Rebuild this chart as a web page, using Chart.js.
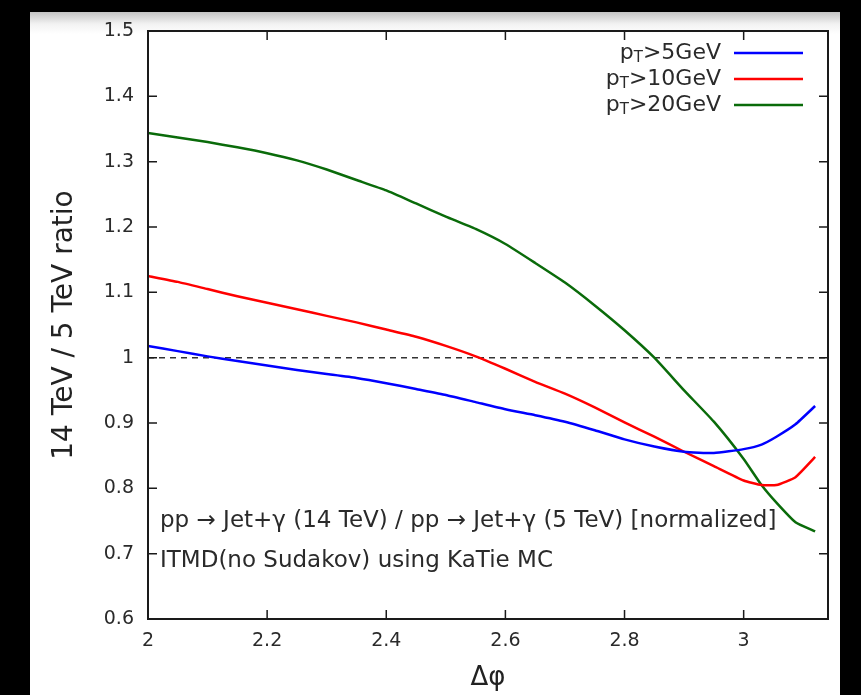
<!DOCTYPE html>
<html>
<head>
<meta charset="utf-8">
<script src="https://cdn.jsdelivr.net/npm/chart.js@4.4.1/dist/chart.umd.min.js"></script>
<style>
html,body{margin:0;padding:0;background:#000;width:861px;height:695px;overflow:hidden;}
#paper{position:absolute;left:30px;top:12px;width:810px;height:683px;
  background:linear-gradient(to bottom,#c4c4c4 0px,#f2f2f2 12px,#ffffff 22px);}
#wrap{position:absolute;left:0;top:0;width:861px;height:695px;}
</style>
</head>
<body>
<div id="paper"></div>
<div id="wrap"><canvas id="c" width="861" height="695"></canvas></div>
<script>
// ---- data ----
const dphi = [2.0,2.05,2.1,2.15,2.2,2.25,2.3,2.35,2.4,2.45,2.5,2.55,2.6,2.65,2.7,2.75,2.8,2.85,2.9,2.95,3.0,3.03,3.055,3.087,3.12];
const pt5  = [1.018,1.010,1.002,0.995,0.988,0.981,0.975,0.969,0.961,0.952,0.943,0.932,0.921,0.912,0.902,0.889,0.875,0.864,0.856,0.854,0.860,0.867,0.879,0.898,0.926];
const pt10 = [1.125,1.116,1.105,1.094,1.084,1.074,1.064,1.054,1.043,1.032,1.018,1.002,0.983,0.963,0.945,0.924,0.901,0.879,0.856,0.834,0.812,0.805,0.805,0.817,0.848];
const pt20 = [1.344,1.337,1.330,1.322,1.313,1.302,1.288,1.272,1.256,1.236,1.216,1.197,1.174,1.145,1.115,1.080,1.042,1.000,0.950,0.902,0.845,0.805,0.778,0.748,0.734];
const refX = [2.0, Math.PI];
const refY = [1.0, 1.0];
const seriesLabels = [">5GeV", ">10GeV", ">20GeV"];
const yTicks = [0.6,0.7,0.8,0.9,1.0,1.1,1.2,1.3,1.4,1.5];
const xTicks = [2.0,2.2,2.4,2.6,2.8,3.0];
const note1 = "pp \u2192 Jet+\u03B3 (14 TeV) / pp \u2192 Jet+\u03B3 (5 TeV) [normalized]";
const note2 = "ITMD(no Sudakov) using KaTie MC";

const toXY = (xs, ys) => xs.map((x,i)=>({x:x,y:ys[i]}));
const FONT = "'DejaVu Sans', sans-serif";
const colors = ['#0000ff','#ff0000','#0a6b0a'];

const decor = {
  id:'decor',
  afterDatasetsDraw(chart){
    const ctx = chart.ctx, a = chart.chartArea;
    const xs = chart.scales.x, ys = chart.scales.y;
    ctx.save();
    ctx.strokeStyle = '#1a1a1a';
    ctx.lineWidth = 1.5;
    const tl = 9;
    ctx.beginPath();
    yTicks.forEach(v=>{
      const py = ys.getPixelForValue(v);
      ctx.moveTo(a.left, py); ctx.lineTo(a.left+tl, py);
      ctx.moveTo(a.right, py); ctx.lineTo(a.right-tl, py);
    });
    xTicks.forEach(v=>{
      const px = xs.getPixelForValue(v);
      ctx.moveTo(px, a.bottom); ctx.lineTo(px, a.bottom-tl);
      ctx.moveTo(px, a.top); ctx.lineTo(px, a.top+tl);
    });
    ctx.stroke();
    ctx.lineWidth = 2;
    ctx.strokeRect(a.left, a.top, a.right-a.left, a.bottom-a.top);

    // legend
    const fs = 22;
    const fsSub = 15;
    const textRight = a.right - 107;
    const lx1 = a.right - 94, lx2 = a.right - 25;
    seriesLabels.forEach((lab,i)=>{
      const cy = a.top + 22 + i*26;
      ctx.fillStyle = '#2a2a2a';
      ctx.textBaseline = 'middle';
      ctx.font = fs+'px '+FONT;
      const wRest = ctx.measureText(lab).width;
      const wP = ctx.measureText('p').width;
      ctx.font = fsSub+'px '+FONT;
      const wT = ctx.measureText('T').width;
      let x0 = textRight - wRest - wT - wP;
      ctx.textAlign = 'left';
      ctx.font = fs+'px '+FONT;
      ctx.fillText('p', x0, cy);
      ctx.font = fsSub+'px '+FONT;
      ctx.fillText('T', x0+wP, cy+5);
      ctx.font = fs+'px '+FONT;
      ctx.fillText(lab, x0+wP+wT, cy);
      ctx.strokeStyle = colors[i];
      ctx.lineWidth = 2.5;
      ctx.beginPath(); ctx.moveTo(lx1, cy); ctx.lineTo(lx2, cy); ctx.stroke();
    });

    // notes
    ctx.fillStyle = '#2a2a2a';
    ctx.textAlign = 'left';
    ctx.textBaseline = 'middle';
    ctx.font = '23px '+FONT;
    ctx.fillText(note1, a.left+12, 521);
    ctx.fillText(note2, a.left+12, 561);
    ctx.restore();
  }
};

new Chart(document.getElementById('c'), {
  type:'line',
  data:{
    datasets:[
      {label:'pT'+seriesLabels[0], data:toXY(dphi,pt5), borderColor:colors[0], borderWidth:2.5, pointRadius:0, tension:0.15, order:1},
      {label:'pT'+seriesLabels[1], data:toXY(dphi,pt10), borderColor:colors[1], borderWidth:2.5, pointRadius:0, tension:0.15, order:1},
      {label:'pT'+seriesLabels[2], data:toXY(dphi,pt20), borderColor:colors[2], borderWidth:2.5, pointRadius:0, tension:0.15, order:1},
      {label:'ref', data:toXY(refX,refY), borderColor:'#333', borderWidth:1.5, borderDash:[6,5], pointRadius:0, order:5}
    ]
  },
  options:{
    responsive:false, animation:false,
    layout:{padding:{left:30, right:33, top:31, bottom:0}},
    plugins:{legend:{display:false}, tooltip:{enabled:false}},
    scales:{
      x:{type:'linear', min:2, max:Math.PI,
        afterFit(s){ s.height = 76; },
        afterBuildTicks(s){ s.ticks = xTicks.map(v=>({value:v})); },
        grid:{display:false, drawTicks:false},
        border:{display:false},
        ticks:{padding:11, color:'#2a2a2a', font:{family:FONT, size:19}, maxRotation:0,
          callback:v=>String(+v.toFixed(1))},
        title:{display:true, text:'\u0394\u03C6', color:'#222', font:{family:FONT, size:26}, padding:{top:0,bottom:1}}
      },
      y:{type:'linear', min:0.6, max:1.5,
        afterFit(s){ s.width = 118; },
        afterBuildTicks(s){ s.ticks = yTicks.map(v=>({value:v})); },
        grid:{display:false, drawTicks:false},
        border:{display:false},
        ticks:{padding:14, color:'#2a2a2a', font:{family:FONT, size:19},
          callback:v=>String(+v.toFixed(1))},
        title:{display:true, text:'14 TeV / 5 TeV ratio', color:'#222', font:{family:FONT, size:28}, padding:{top:18,bottom:0}}
      }
    }
  },
  plugins:[decor]
});
</script>
</body>
</html>
